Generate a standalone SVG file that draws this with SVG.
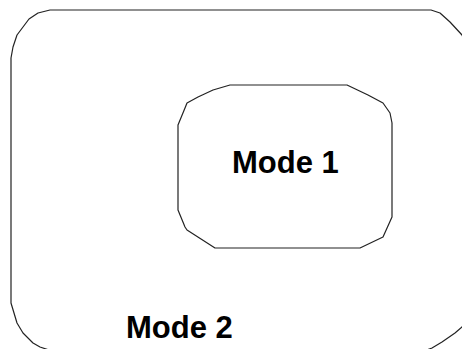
<svg xmlns="http://www.w3.org/2000/svg" width="462" height="349" viewBox="0 0 462 349">
<style>
.shape{fill:none;stroke:#222;stroke-width:1.2;stroke-linejoin:round}
.lbl{font-family:"Liberation Sans",Arial,sans-serif;font-weight:bold;font-size:31px;fill:#000}
</style>
<rect width="462" height="349" fill="#fff"/>
<g id="mode2">
<polygon class="shape" points="50,10 431,10 440,13 450,22 462,35 468,48 471,60 471,300 467,318 462,327 455,333 442,342 432,348 424,351 52,351 40,347 33,343 23,333 17,323 11,303 11,58 13,47 17,35 29,19 38,13"/>
<text class="lbl" x="126" y="338">Mode 2</text>
</g>
<g id="mode1">
<polygon class="shape" points="230,85 347,85 368,95 383,103 390,113 392,123 392,217 383,237 360,248 215,248 187,230 185,227 178,210 178,125 185,108 187,103 198,97 213,90"/>
<text class="lbl" x="232" y="173">Mode 1</text>
</g>
<g id="connectors"></g>
</svg>
